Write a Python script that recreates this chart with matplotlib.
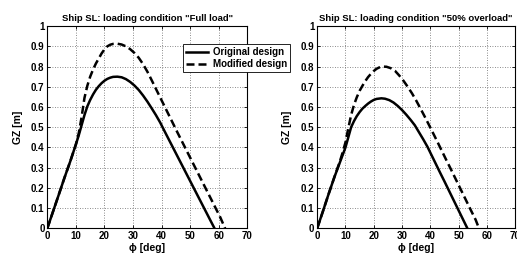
import numpy as np
import matplotlib
matplotlib.use("Agg")
import matplotlib.pyplot as plt

plt.rcParams['font.family'] = ['Liberation Sans', 'DejaVu Sans']
plt.rcParams['font.weight'] = 'bold'

# full load, original design
phi_full_orig = [0, 2, 4, 6, 8, 10, 11, 12, 13, 14, 15, 16, 17, 18, 19, 20, 21, 22, 23, 24.5,
                 26, 27.5, 29, 30.5, 32, 33.5, 35, 36.5, 38, 39.5, 41, 43, 45, 47, 49, 51, 53, 55, 57, 58.5]
gz_full_orig = [0, 0.083, 0.166, 0.25, 0.33, 0.415, 0.46, 0.51, 0.56, 0.603, 0.635, 0.662, 0.685, 0.703,
                0.718, 0.73, 0.739, 0.745, 0.749, 0.75,
                0.747, 0.738, 0.724, 0.706, 0.684, 0.657, 0.627, 0.594, 0.56, 0.523, 0.481, 0.426, 0.371,
                0.316, 0.261, 0.206, 0.151, 0.096, 0.041, 0]
# full load, modified design
phi_full_mod = [0, 2, 4, 6, 8, 10, 11, 12, 13, 14, 15, 16, 17, 18, 19, 20, 21, 22, 23, 24.5,
                26, 27.5, 29, 30.5, 32, 33.5, 35, 36.5, 38, 39.5, 41, 42.5, 44, 45.5, 47, 48.5, 50,
                51.5, 53, 54.5, 56, 57.5, 59, 60.5, 62.2]
gz_full_mod = [0, 0.083, 0.166, 0.25, 0.33, 0.415, 0.47, 0.55, 0.645, 0.705, 0.75, 0.785, 0.815, 0.84,
               0.865, 0.885, 0.9, 0.908, 0.912, 0.913,
               0.909, 0.9, 0.886, 0.867, 0.843, 0.812, 0.775, 0.733, 0.69, 0.647, 0.604, 0.561, 0.518,
               0.475, 0.433, 0.391, 0.349, 0.307, 0.265, 0.223, 0.181, 0.139, 0.097, 0.055, 0]
# 50% overload, original design
phi_over_orig = [0, 2, 4, 6, 8, 10, 11, 12, 13, 14, 15, 16, 17, 18, 19, 20, 21, 22.7, 24, 25.5,
                 27, 28.5, 30, 31.5, 33, 34.5, 36, 37.5, 39, 40.5, 42, 43.5, 45, 46.5, 48, 49.5, 51, 53.1]
gz_over_orig = [0, 0.083, 0.168, 0.25, 0.325, 0.4, 0.45, 0.5, 0.53, 0.555, 0.575, 0.592, 0.605, 0.617,
                0.627, 0.635, 0.64, 0.643, 0.641, 0.634, 0.622, 0.605, 0.585, 0.562, 0.537, 0.51,
                0.475, 0.44, 0.403, 0.36, 0.317, 0.274, 0.232, 0.189, 0.146, 0.103, 0.06, 0]
# 50% overload, modified design
phi_over_mod = [0, 2, 4, 6, 8, 9, 10, 11, 12, 13, 14, 15, 16, 17, 18, 19, 20, 21, 22, 23, 24.5,
                26, 27.5, 29, 30.5, 32, 33.5, 35, 36.5, 38, 39.5, 41, 42.5, 44, 45.5, 47, 48.5,
                50, 51.5, 53, 54.5, 56, 57.2]
gz_over_mod = [0, 0.083, 0.168, 0.25, 0.33, 0.375, 0.425, 0.495, 0.56, 0.61, 0.648, 0.68, 0.705, 0.728,
               0.748, 0.764, 0.778, 0.789, 0.796, 0.8, 0.799,
               0.792, 0.779, 0.756, 0.73, 0.7, 0.668, 0.632, 0.593, 0.553, 0.512, 0.47, 0.428, 0.385,
               0.342, 0.3, 0.257, 0.214, 0.171, 0.128, 0.085, 0.043, 0]

titles = ['Ship SL: loading condition "Full load"', 'Ship SL: loading condition "50% overload"']
legend_labels = ['Original design', 'Modified design']

fig = plt.figure(figsize=(5.17, 2.56), dpi=100)
ax1 = fig.add_axes([0.0915, 0.108, 0.387, 0.79])
ax2 = fig.add_axes([0.6135, 0.108, 0.383, 0.79])

data = [(phi_full_orig, gz_full_orig, phi_full_mod, gz_full_mod),
        (phi_over_orig, gz_over_orig, phi_over_mod, gz_over_mod)]

for ax, (po, go, pm, gm), ttl in zip([ax1, ax2], data, titles):
    l1, = ax.plot(po, go, color='black', lw=1.8, solid_joinstyle='round')
    l2, = ax.plot(pm, gm, color='black', lw=1.8, linestyle=(0, (3.2, 1.6)))
    ax.set_xlim(0, 70)
    ax.set_ylim(0, 1)
    ax.set_xticks(np.arange(0, 71, 10))
    ax.set_yticks(np.arange(0, 1.01, 0.1))
    ax.set_yticklabels(['0', '0.1', '0.2', '0.3', '0.4', '0.5', '0.6', '0.7', '0.8', '0.9', '1'])
    ax.grid(True, color='#666666', linestyle=(0, (1, 2)), linewidth=0.6)
    ax.tick_params(direction='in', top=True, right=True, labelsize=7, length=2.5, width=0.6, pad=2)
    for s in ax.spines.values():
        s.set_linewidth(0.8)
    ax.set_title(ttl, fontsize=6.8, fontweight='bold', pad=4)
    ax.set_xlabel('ϕ [deg]', fontsize=7.5, fontweight='bold', labelpad=1)
    ax.set_ylabel('GZ [m]', fontsize=7.5, fontweight='bold', labelpad=6)

leg = fig.legend([l1, l2], legend_labels, loc='lower left',
                 bbox_to_anchor=(0.354, 0.719), fontsize=7, handlelength=2.3,
                 borderaxespad=0, borderpad=0.3, labelspacing=0.2, handletextpad=0.5,
                 fancybox=False, framealpha=1)
leg.get_frame().set_edgecolor('black')
leg.get_frame().set_linewidth(0.6)

fig.savefig('out.png', dpi=100)
